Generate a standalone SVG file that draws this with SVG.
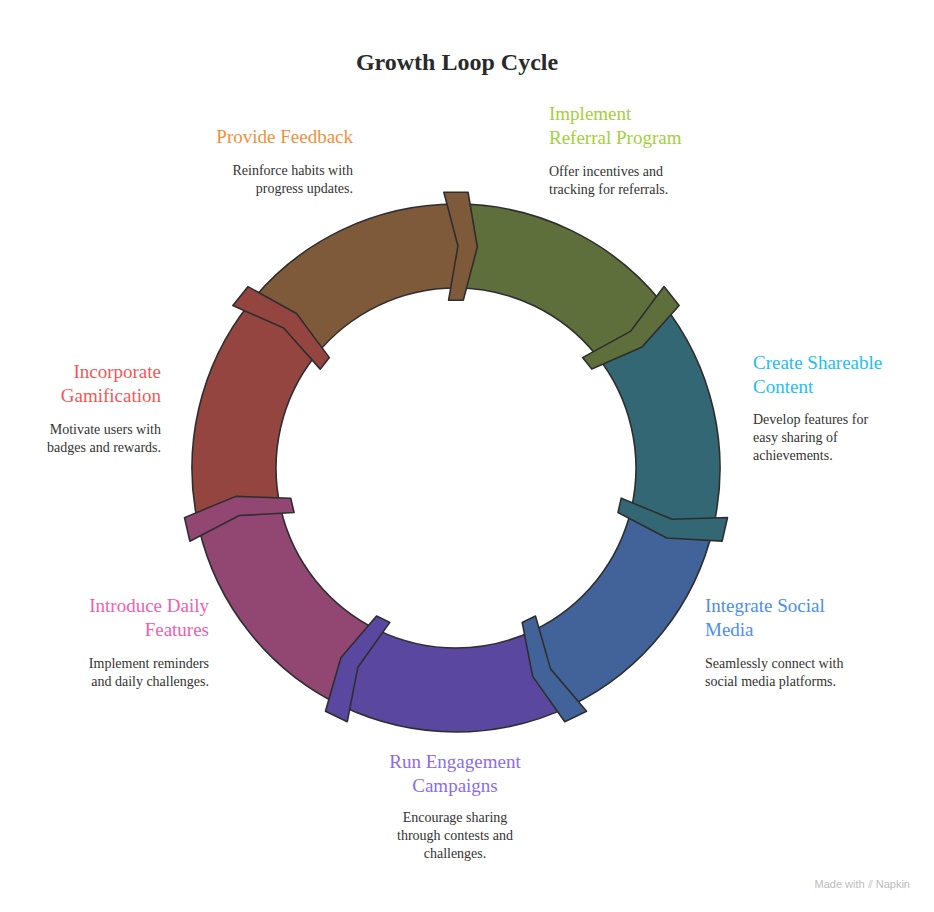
<svg xmlns="http://www.w3.org/2000/svg" width="934" height="912" viewBox="0 0 934 912">
<style>
.s{stroke:#2e2e2e;stroke-width:1.6;stroke-linejoin:round}
text{font-family:"Liberation Serif",serif}
.t{font-size:19px}
.d{font-size:14px;fill:#333}
.r{text-anchor:end}
.c{text-anchor:middle}
</style>
<defs>
<path id="seg" d="M264,0 A264,264 0 0 1 164.6,206.4 L129.2,180.6 L112.2,140.7 A180,180 0 0 0 180,0 L221.7,11.6 Z"/>
<polygon id="tab" points="110.4,126.6 136.9,174.8 181.4,208 162.5,223.1 121.1,186.1 98.9,135.8"/>
</defs>
<rect width="934" height="912" fill="#fff"/>
<text x="457" y="70" class="c" font-size="24" font-weight="bold" fill="#2a2a2a">Growth Loop Cycle</text>
<g id="ring" transform="translate(456 468)">
<g id="seg-feedback"><use href="#seg" class="s" fill="#7f5a3a" transform="rotate(-141.43)"/></g>
<g id="seg-referral"><use href="#seg" class="s" fill="#5f6f3c" transform="rotate(-90)"/></g>
<g id="seg-content"><use href="#seg" class="s" fill="#336773" transform="rotate(-38.57)"/></g>
<g id="seg-social"><use href="#seg" class="s" fill="#41639a" transform="rotate(12.86)"/></g>
<g id="seg-campaigns"><use href="#seg" class="s" fill="#5a47a0" transform="rotate(64.29)"/></g>
<g id="seg-daily"><use href="#seg" class="s" fill="#924672" transform="rotate(115.71)"/></g>
<g id="seg-gamification"><use href="#seg" class="s" fill="#954540" transform="rotate(167.14)"/></g>
<g id="tabs">
<use href="#tab" class="s" fill="#7f5a3a" transform="rotate(-141.43)"/>
<use href="#tab" class="s" fill="#5f6f3c" transform="rotate(-90)"/>
<use href="#tab" class="s" fill="#336773" transform="rotate(-38.57)"/>
<use href="#tab" class="s" fill="#41639a" transform="rotate(12.86)"/>
<use href="#tab" class="s" fill="#5a47a0" transform="rotate(64.29)"/>
<use href="#tab" class="s" fill="#924672" transform="rotate(115.71)"/>
<use href="#tab" class="s" fill="#954540" transform="rotate(167.14)"/>
</g>
</g>
<g id="label-feedback" class="r">
<text x="353" y="143" class="t r" fill="#f0913a">Provide Feedback</text>
<text x="353" y="175" class="d r">Reinforce habits with</text>
<text x="353" y="193" class="d r">progress updates.</text>
</g>
<g id="label-referral">
<text x="549" y="120" class="t" fill="#a3cf3a">Implement</text>
<text x="549" y="144" class="t" fill="#a3cf3a">Referral Program</text>
<text x="549" y="176" class="d">Offer incentives and</text>
<text x="549" y="194" class="d">tracking for referrals.</text>
</g>
<g id="label-content">
<text x="753" y="369" class="t" fill="#1ec0f0">Create Shareable</text>
<text x="753" y="393" class="t" fill="#1ec0f0">Content</text>
<text x="753" y="424" class="d">Develop features for</text>
<text x="753" y="442" class="d">easy sharing of</text>
<text x="753" y="460" class="d">achievements.</text>
</g>
<g id="label-social">
<text x="705" y="612" class="t" fill="#4a8ef0">Integrate Social</text>
<text x="705" y="636" class="t" fill="#4a8ef0">Media</text>
<text x="705" y="668" class="d">Seamlessly connect with</text>
<text x="705" y="686" class="d">social media platforms.</text>
</g>
<g id="label-campaigns">
<text x="455" y="768" class="t c" fill="#8a6cf0">Run Engagement</text>
<text x="455" y="792" class="t c" fill="#8a6cf0">Campaigns</text>
<text x="455" y="822" class="d c">Encourage sharing</text>
<text x="455" y="840" class="d c">through contests and</text>
<text x="455" y="858" class="d c">challenges.</text>
</g>
<g id="label-daily">
<text x="209" y="612" class="t r" fill="#f060b0">Introduce Daily</text>
<text x="209" y="636" class="t r" fill="#f060b0">Features</text>
<text x="209" y="668" class="d r">Implement reminders</text>
<text x="209" y="686" class="d r">and daily challenges.</text>
</g>
<g id="label-gamification">
<text x="161" y="378" class="t r" fill="#f05858">Incorporate</text>
<text x="161" y="402" class="t r" fill="#f05858">Gamification</text>
<text x="161" y="434" class="d r">Motivate users with</text>
<text x="161" y="452" class="d r">badges and rewards.</text>
</g>
<text x="910" y="888" text-anchor="end" font-size="11" fill="#bbb" style="font-family:'Liberation Sans',sans-serif">Made with ⫽ Napkin</text>
</svg>
